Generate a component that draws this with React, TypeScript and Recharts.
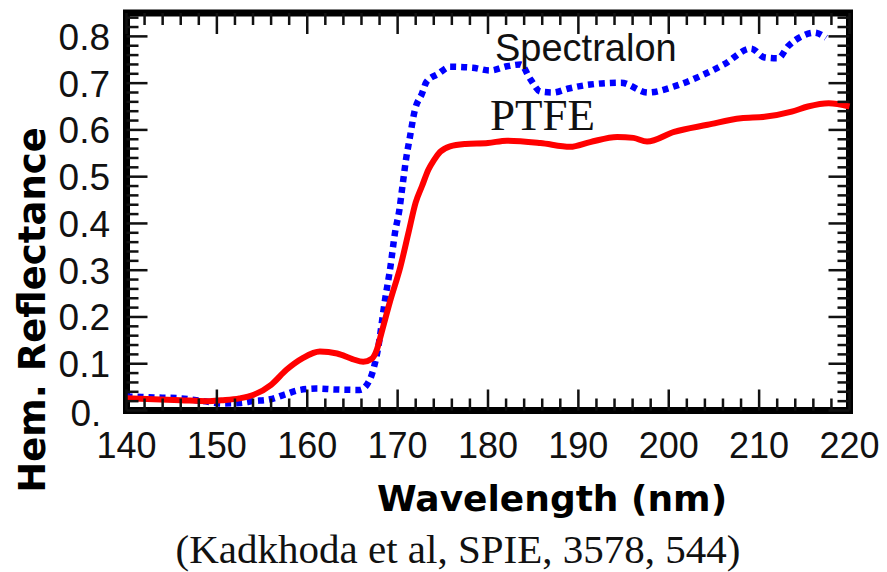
import React from 'react';
import { LineChart, Line, XAxis, YAxis, ReferenceArea } from 'recharts';

// PTFE hemispherical reflectance (red, solid)
const ptfeWavelength = [
  140, 143, 146, 149, 150.5, 152.5, 154, 156, 157.7, 159.5, 161.4, 163.3, 165, 166.2, 167.1, 167.7,
  168.2, 169.2, 170.3, 171.2, 172, 172.7, 173.4, 174, 174.7, 175.8, 177.5, 180, 182.1, 185.8, 189.1,
  191.3, 194.3, 196.1, 197.6, 200.6, 204.3, 208, 210.6, 213.6, 215.4, 217.7, 220,
];
const ptfeReflectance = [
  0.026, 0.024, 0.022, 0.02, 0.022, 0.026, 0.033, 0.055, 0.087, 0.112, 0.126, 0.122, 0.11, 0.104, 0.11, 0.13,
  0.165, 0.236, 0.307, 0.38, 0.445, 0.48, 0.515, 0.535, 0.553, 0.565, 0.57, 0.572, 0.577, 0.572, 0.564,
  0.574, 0.585, 0.583, 0.575, 0.596, 0.611, 0.625, 0.628, 0.639, 0.65, 0.657, 0.65,
];

// Spectralon (blue, dotted)
const spectralonWavelength = [
  140, 143, 146, 148.5, 150.5, 152.5, 154, 155.9, 157.5, 159.2, 161, 163, 165.8, 166.9, 167.4, 167.8,
  168.6, 169.2, 169.7, 170.2, 170.55, 171, 171.3, 171.9, 172.7, 173.2, 174.5, 175.8, 178.3, 180.2, 182.1,
  183.6, 184.7, 185.8, 187.2, 188.8, 191.3, 194.7, 197.7, 200.6, 203.6, 206.1, 209.1, 210.6, 212.1, 213.2,
  214.7, 216.1, 217.4,
];
const spectralonReflectance = [
  0.03, 0.028, 0.026, 0.02, 0.015, 0.016, 0.02, 0.024, 0.034, 0.044, 0.047, 0.045, 0.044, 0.065, 0.094, 0.129,
  0.236, 0.307, 0.379, 0.43, 0.482, 0.546, 0.578, 0.642, 0.678, 0.703, 0.72, 0.735, 0.733, 0.727, 0.736,
  0.74, 0.708, 0.682, 0.68, 0.688, 0.697, 0.701, 0.68, 0.693, 0.716, 0.74, 0.774, 0.755, 0.753, 0.779,
  0.8, 0.808, 0.797,
];

const xMajorTicks = [140, 150, 160, 170, 180, 190, 200, 210, 220];
const yMajorLabels = ['0.', '0.1', '0.2', '0.3', '0.4', '0.5', '0.6', '0.7', '0.8'];

// minor ticks every 2 nm and every 0.02
const xTicks: number[] = [];
for (let v = 140; v <= 220; v += 2) xTicks.push(v);
const yTicks: number[] = [];
for (let i = 0; i <= 42; i++) yTicks.push(Math.round(i * 2) / 100);

const ptfeData = ptfeWavelength.map((x, i) => ({ x, y: ptfeReflectance[i] }));
const spectralonData = spectralonWavelength.map((x, i) => ({ x, y: spectralonReflectance[i] }));

const W = 887;
const H = 572;
const X_MIN = 140;
const X_MAX = 220;
const Y_MAX = 0.85;
const PLOT_LEFT = 126.5;
const PLOT_RIGHT = 849.5;
const PLOT_TOP = 13;
const PLOT_BOTTOM = 410.5;
const PLOT_W = PLOT_RIGHT - PLOT_LEFT;
const PLOT_H = PLOT_BOTTOM - PLOT_TOP;

const sans = '"Liberation Sans", Arial, sans-serif';
const serif = '"Liberation Serif", "Times New Roman", serif';
const boldSans = '"DejaVu Sans", sans-serif';

// tick marks go inward on all four sides; drawn as thin filled bars from the axis tick positions
const XTick = (props: any) => {
  const { x, y, payload } = props;
  const v = payload.value;
  const major = xMajorTicks.includes(v);
  const len = major ? 21 : 12;
  const top = y - PLOT_H;
  return (
    <g>
      <rect x={x - 1.25} y={y - len} width={2.5} height={len} fill="#111" />
      <rect x={x - 1.25} y={top} width={2.5} height={len} fill="#111" />
      {major && (
        <text x={x} y={y + 47.5} textAnchor="middle" fontFamily={sans} fontSize={36} fill="#111">
          {v}
        </text>
      )}
    </g>
  );
};

const YTick = (props: any) => {
  const { x, y, payload } = props;
  const hund = Math.round(payload.value * 100);
  const major = hund % 10 === 0;
  const len = major ? 21 : 12;
  const right = x + PLOT_W;
  const isZero = hund === 0;
  return (
    <g>
      <rect x={x} y={y - 1.25} width={len} height={2.5} fill="#111" />
      <rect x={right - len} y={y - 1.25} width={len} height={2.5} fill="#111" />
      {major && (
        <text
          x={isZero ? x - 56 : x - 16.5}
          y={isZero ? y + 15 : y + 13.5}
          textAnchor={isZero ? 'start' : 'end'}
          fontFamily={sans}
          fontSize={37}
          fill="#111"
        >
          {yMajorLabels[hund / 10]}
        </text>
      )}
    </g>
  );
};

export default function App() {
  return (
    <div style={{ position: 'absolute', left: 0, top: 0, width: W, height: H, background: '#fff' }}>
      <LineChart
        width={W}
        height={H}
        margin={{ top: PLOT_TOP, right: W - PLOT_RIGHT, bottom: H - PLOT_BOTTOM - 30, left: PLOT_LEFT - 60 }}
      >
        <XAxis
          dataKey="x"
          type="number"
          domain={[X_MIN, X_MAX]}
          ticks={xTicks}
          interval={0}
          height={30}
          tickSize={0}
          tickMargin={0}
          tickLine={false}
          axisLine={false}
          tick={<XTick />}
        />
        <YAxis
          type="number"
          domain={[0, Y_MAX]}
          ticks={yTicks}
          interval={0}
          width={60}
          tickSize={0}
          tickMargin={0}
          tickLine={false}
          axisLine={false}
          tick={<YTick />}
        />
        <Line
          data={spectralonData}
          dataKey="y"
          type="monotone"
          stroke="#0000ff"
          strokeWidth={6.5}
          strokeDasharray="6 5"
          dot={false}
          isAnimationActive={false}
        />
        <Line
          data={ptfeData}
          dataKey="y"
          type="monotone"
          stroke="#ff0000"
          strokeWidth={6}
          dot={false}
          isAnimationActive={false}
        />
        <ReferenceArea x1={X_MIN} x2={X_MAX} y1={0} y2={Y_MAX} fill="none" stroke="#000" strokeWidth={7} />
      </LineChart>
      <svg width={W} height={H} style={{ position: 'absolute', left: 0, top: 0, pointerEvents: 'none' }}>
        <text x={495} y={61} fontFamily={sans} fontSize={38} fill="#111">Spectralon</text>
        <text x={490} y={130} fontFamily={serif} fontSize={45} fill="#111">PTFE</text>
        <text
          transform="translate(45,310) rotate(-90)"
          textAnchor="middle"
          fontFamily={boldSans}
          fontWeight="bold"
          fontSize={37}
          fill="#000"
        >
          Hem. Reflectance
        </text>
        <text x={552} y={511} textAnchor="middle" fontFamily={boldSans} fontWeight="bold" fontSize={36} fill="#000">
          Wavelength (nm)
        </text>
        <text x={458} y={563} textAnchor="middle" fontFamily={serif} fontSize={41} fill="#111">
          (Kadkhoda et al, SPIE, 3578, 544)
        </text>
      </svg>
    </div>
  );
}
